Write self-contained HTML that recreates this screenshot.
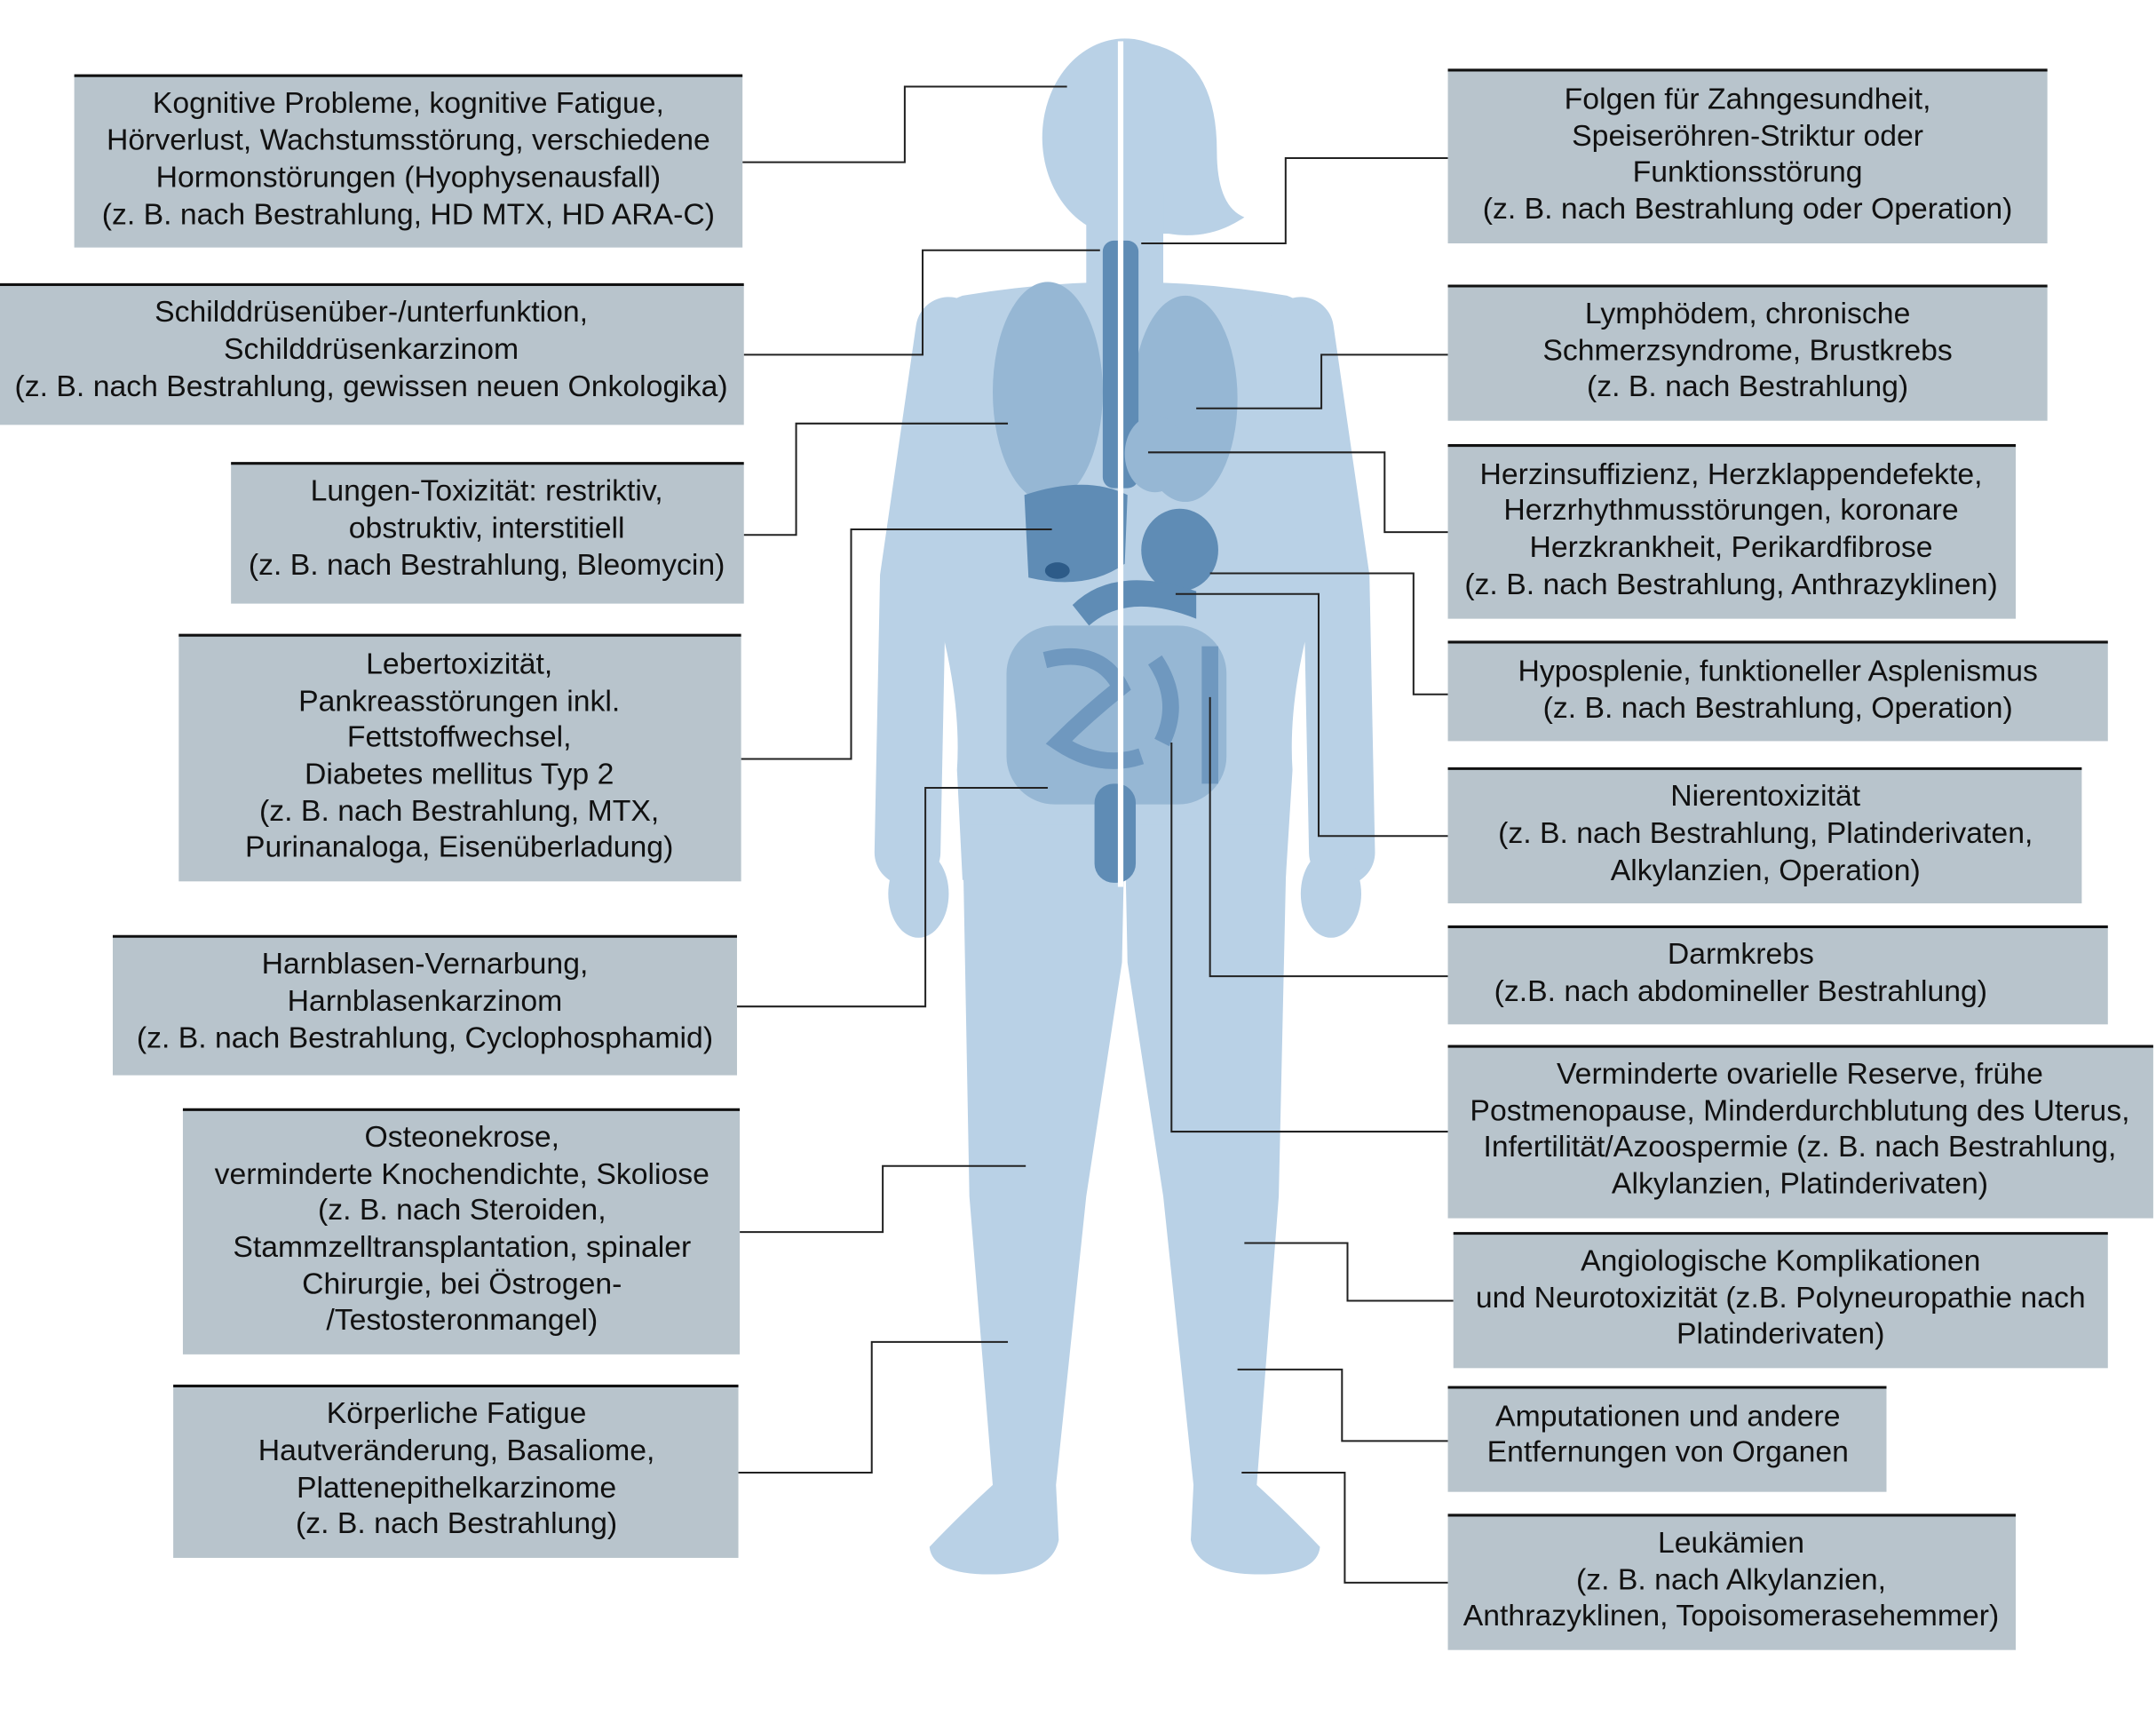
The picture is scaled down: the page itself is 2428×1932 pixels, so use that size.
<!DOCTYPE html>
<html><head><meta charset="utf-8"><style>
html,body{margin:0;padding:0;background:#fff;}
svg{display:block;}
text{font-family:"Liberation Sans",Arial,sans-serif;font-size:21.8px;fill:#111;text-anchor:middle;}
.box{fill:#b8c4cc;}
.tb{stroke:#111;stroke-width:2;}
.c{fill:none;stroke:#222;stroke-width:1.3;}
.b{fill:#b9d1e6;}
.o1{fill:#96b7d4;}
.o2{fill:#5f8cb5;}
</style></head><body>
<svg width="2428" height="1932" viewBox="0 0 1568 1248" preserveAspectRatio="none" xmlns="http://www.w3.org/2000/svg">
<!-- body -->
<g>
<ellipse class="b" cx="818" cy="100" rx="60" ry="72"/>
<path class="b" d="M818 30 Q885 30 885 110 Q885 150 905 158 Q880 175 850 170 L818 170Z"/>
<rect class="b" x="790" y="140" width="56" height="70"/>
<path class="b" d="M700 215 Q818 195 936 215 Q972 228 974 290 L962 420 Q936 500 940 560 L935 640 L700 640 L696 560 Q700 500 674 420 L662 290 Q664 228 700 215Z"/>
<path d="M690 240 L664 420 L660 620" stroke="#b9d1e6" stroke-width="48" stroke-linecap="round" fill="none"/>
<path d="M946 240 L972 420 L976 620" stroke="#b9d1e6" stroke-width="48" stroke-linecap="round" fill="none"/>
<ellipse class="b" cx="668" cy="650" rx="22" ry="32"/>
<ellipse class="b" cx="968" cy="650" rx="22" ry="32"/>
<path class="b" d="M700 600 L818 600 L816 700 L790 870 L768 1080 L770 1120 Q765 1145 720 1145 Q678 1145 676 1125 Q700 1100 722 1080 L705 870 Z"/>
<path class="b" d="M818 600 L936 600 L930 870 L914 1080 Q936 1100 960 1125 Q958 1145 916 1145 Q871 1145 866 1120 L868 1080 L846 870 L820 700 Z"/>
</g>
<!-- organs -->
<ellipse class="o1" cx="762" cy="285" rx="40" ry="80"/>
<ellipse class="o1" cx="862" cy="290" rx="38" ry="75"/>
<rect class="o2" x="802" y="175" width="26" height="180" rx="8"/>
<ellipse class="o1" cx="840" cy="330" rx="22" ry="28"/>
<path class="o2" d="M745 360 Q790 345 820 360 L818 410 Q790 430 748 420 Z"/>
<ellipse fill="#2d5b88" cx="769" cy="415" rx="9" ry="6"/>
<ellipse class="o2" cx="858" cy="400" rx="28" ry="30"/>
<path class="o2" d="M780 440 Q810 410 870 430 L870 450 Q820 430 792 455 Z"/>
<rect class="o1" x="732" y="455" width="160" height="130" rx="35"/>
<path fill="none" stroke="#6f98bf" stroke-width="12" d="M760 480 Q800 470 815 500 Q790 520 770 540 Q800 560 830 550 M840 480 Q860 510 845 540 M880 470 L880 570"/>
<rect class="o2" x="796" y="570" width="30" height="72" rx="14"/>
<rect x="813" y="30" width="4" height="615" fill="#fff"/>
<!-- connectors -->
<path class="c" d="M540 118H658V63H776"/>
<path class="c" d="M541 258H671V182H800"/>
<path class="c" d="M541 389H579V308H733"/>
<path class="c" d="M539 552H619V385H765"/>
<path class="c" d="M536 732H673V573H762"/>
<path class="c" d="M538 896H642V848H746"/>
<path class="c" d="M537 1071H634V976H733"/>
<path class="c" d="M1053 115H935V177H830"/>
<path class="c" d="M1053 258H961V297H870"/>
<path class="c" d="M1053 387H1007V329H835"/>
<path class="c" d="M1053 505H1028V417H880"/>
<path class="c" d="M1053 608H959V432H855"/>
<path class="c" d="M1053 710H880V507"/>
<path class="c" d="M1053 823H852V540"/>
<path class="c" d="M1057 946H980V904H905"/>
<path class="c" d="M1053 1048H976V996H900"/>
<path class="c" d="M1053 1151H978V1071H903"/>
<!-- left boxes -->
<rect class="box" x="54" y="55" width="486" height="125"/><line class="tb" x1="54" y1="55" x2="540" y2="55"/>
<text x="297" y="82">Kognitive Probleme, kognitive Fatigue,</text>
<text x="297" y="109">Hörverlust, Wachstumsstörung, verschiedene</text>
<text x="297" y="136">Hormonstörungen (Hyophysenausfall)</text>
<text x="297" y="163">(z. B. nach Bestrahlung, HD MTX, HD ARA-C)</text>

<rect class="box" x="0" y="207" width="541" height="102"/><line class="tb" x1="0" y1="207" x2="541" y2="207"/>
<text x="270" y="234">Schilddrüsenüber-/unterfunktion,</text>
<text x="270" y="261">Schilddrüsenkarzinom</text>
<text x="270" y="288">(z. B. nach Bestrahlung, gewissen neuen Onkologika)</text>

<rect class="box" x="168" y="337" width="373" height="102"/><line class="tb" x1="168" y1="337" x2="541" y2="337"/>
<text x="354" y="364">Lungen-Toxizität: restriktiv,</text>
<text x="354" y="391">obstruktiv, interstitiell</text>
<text x="354" y="418">(z. B. nach Bestrahlung, Bleomycin)</text>

<rect class="box" x="130" y="462" width="409" height="179"/><line class="tb" x1="130" y1="462" x2="539" y2="462"/>
<text x="334" y="490">Lebertoxizität,</text>
<text x="334" y="517">Pankreasstörungen inkl.</text>
<text x="334" y="543">Fettstoffwechsel,</text>
<text x="334" y="570">Diabetes mellitus Typ 2</text>
<text x="334" y="597">(z. B. nach Bestrahlung, MTX,</text>
<text x="334" y="623">Purinanaloga, Eisenüberladung)</text>

<rect class="box" x="82" y="681" width="454" height="101"/><line class="tb" x1="82" y1="681" x2="536" y2="681"/>
<text x="309" y="708">Harnblasen-Vernarbung,</text>
<text x="309" y="735">Harnblasenkarzinom</text>
<text x="309" y="762">(z. B. nach Bestrahlung, Cyclophosphamid)</text>

<rect class="box" x="133" y="807" width="405" height="178"/><line class="tb" x1="133" y1="807" x2="538" y2="807"/>
<text x="336" y="834">Osteonekrose,</text>
<text x="336" y="861">verminderte Knochendichte, Skoliose</text>
<text x="336" y="887">(z. B. nach Steroiden,</text>
<text x="336" y="914">Stammzelltransplantation, spinaler</text>
<text x="336" y="941">Chirurgie, bei Östrogen-</text>
<text x="336" y="967">/Testosteronmangel)</text>

<rect class="box" x="126" y="1008" width="411" height="125"/><line class="tb" x1="126" y1="1008" x2="537" y2="1008"/>
<text x="332" y="1035">Körperliche Fatigue</text>
<text x="332" y="1062">Hautveränderung, Basaliome,</text>
<text x="332" y="1089">Plattenepithelkarzinome</text>
<text x="332" y="1115">(z. B. nach Bestrahlung)</text>
<!-- right boxes -->
<rect class="box" x="1053" y="51" width="436" height="126"/><line class="tb" x1="1053" y1="51" x2="1489" y2="51"/>
<text x="1271" y="79">Folgen für Zahngesundheit,</text>
<text x="1271" y="106">Speiseröhren-Striktur oder</text>
<text x="1271" y="132">Funktionsstörung</text>
<text x="1271" y="159">(z. B. nach Bestrahlung oder Operation)</text>

<rect class="box" x="1053" y="208" width="436" height="98"/><line class="tb" x1="1053" y1="208" x2="1489" y2="208"/>
<text x="1271" y="235">Lymphödem, chronische</text>
<text x="1271" y="262">Schmerzsyndrome, Brustkrebs</text>
<text x="1271" y="288">(z. B. nach Bestrahlung)</text>

<rect class="box" x="1053" y="324" width="413" height="126"/><line class="tb" x1="1053" y1="324" x2="1466" y2="324"/>
<text x="1259" y="352">Herzinsuffizienz, Herzklappendefekte,</text>
<text x="1259" y="378">Herzrhythmusstörungen, koronare</text>
<text x="1259" y="405">Herzkrankheit, Perikardfibrose</text>
<text x="1259" y="432">(z. B. nach Bestrahlung, Anthrazyklinen)</text>

<rect class="box" x="1053" y="467" width="480" height="72"/><line class="tb" x1="1053" y1="467" x2="1533" y2="467"/>
<text x="1293" y="495">Hyposplenie, funktioneller Asplenismus</text>
<text x="1293" y="522">(z. B. nach Bestrahlung, Operation)</text>

<rect class="box" x="1053" y="559" width="461" height="98"/><line class="tb" x1="1053" y1="559" x2="1514" y2="559"/>
<text x="1284" y="586">Nierentoxizität</text>
<text x="1284" y="613">(z. B. nach Bestrahlung, Platinderivaten,</text>
<text x="1284" y="640">Alkylanzien, Operation)</text>

<rect class="box" x="1053" y="674" width="480" height="71"/><line class="tb" x1="1053" y1="674" x2="1533" y2="674"/>
<text x="1266" y="701">Darmkrebs</text>
<text x="1266" y="728">(z.B. nach abdomineller Bestrahlung)</text>

<rect class="box" x="1053" y="761" width="513" height="125"/><line class="tb" x1="1053" y1="761" x2="1566" y2="761"/>
<text x="1309" y="788">Verminderte ovarielle Reserve, frühe</text>
<text x="1309" y="815">Postmenopause, Minderdurchblutung des Uterus,</text>
<text x="1309" y="841">Infertilität/Azoospermie (z. B. nach Bestrahlung,</text>
<text x="1309" y="868">Alkylanzien, Platinderivaten)</text>

<rect class="box" x="1057" y="897" width="476" height="98"/><line class="tb" x1="1057" y1="897" x2="1533" y2="897"/>
<text x="1295" y="924">Angiologische Komplikationen</text>
<text x="1295" y="951">und Neurotoxizität (z.B. Polyneuropathie nach</text>
<text x="1295" y="977">Platinderivaten)</text>

<rect class="box" x="1053" y="1009" width="319" height="76"/><line class="tb" x1="1053" y1="1009" x2="1372" y2="1009"/>
<text x="1213" y="1037">Amputationen und andere</text>
<text x="1213" y="1063">Entfernungen von Organen</text>

<rect class="box" x="1053" y="1102" width="413" height="98"/><line class="tb" x1="1053" y1="1102" x2="1466" y2="1102"/>
<text x="1259" y="1129">Leukämien</text>
<text x="1259" y="1156">(z. B. nach Alkylanzien,</text>
<text x="1259" y="1182">Anthrazyklinen, Topoisomerasehemmer)</text>
</svg>
</body></html>
